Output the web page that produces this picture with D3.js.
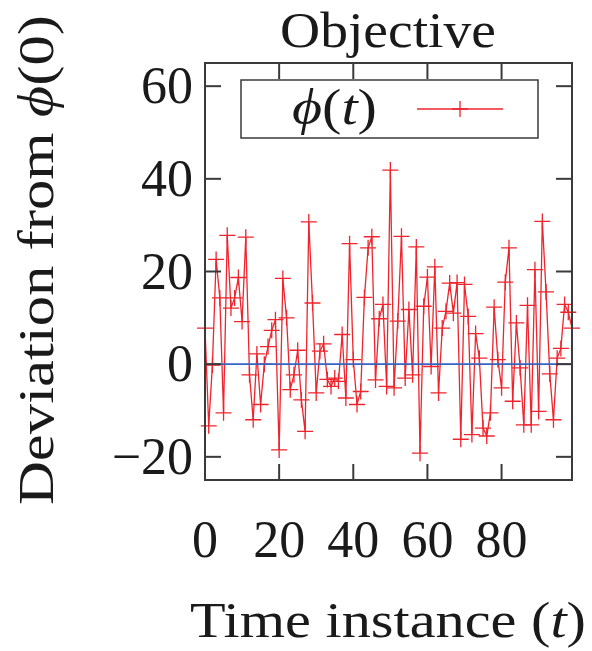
<!DOCTYPE html>
<html>
<head>
<meta charset="utf-8">
<script src="https://cdn.jsdelivr.net/npm/d3@7"></script>
<style>
  body { margin: 0; background: #fff; }
  text { font-family: "Liberation Serif", "Times New Roman", Times, serif; fill: #1a1a1a; }
</style>
</head>
<body>
<script>
// phi(t) - phi(0), t = 0..99
const deviation = [
  7.8, -13.3, -0.2, 22.6, 14.3, -10.5, 27.8, 12.1, 14.3, 18.7,
  9.2, 27.4, -2.3, -12, 2.2, -8.7, 0, 3.8, 7.3, 9.6,
  -18.5, 18.5, 10, -5.5, -2.3, 3, -7.7, -14.5, 30.7, 13.2,
  -6.2, 2.8, 4.4, -3.3, -4.8, -3, -3.7, 6.4, -7.3, 26,
  1, -8.7, -5.9, 14.4, 25.1, 27.5, -3.4, 9.8, 12.9, -4.8,
  41.9, -5.1, 9.3, 27.6, -3, 11.8, -2.3, 25.3, -19.2, 12.5,
  18.8, -0.5, 21, -6.2, 7.8, 11.4, 17.5, 11, 17.6, -16.2,
  17.2, 10.3, -15.2, 6.6, 1.3, -13.8, -15.5, -10.5, 12.3, 1,
  -5.1, 17.7, 25.1, -8, 8.9, -0.8, -13.1, 12.7, -13.1, 20.4,
  -10.2, 30.8, 15.6, -2.1, -12, 1.3, 3.4, 12.9, 11.2, 7.8
];
const baseline = [0, 0];           // the flat phi(0) reference line
const xTicks = [0, 20, 40, 60, 80];
const yTicks = [-20, 0, 20, 40, 60];

const width = 592, height = 651;
const margin = {top: 63, right: 20, bottom: 171, left: 205};

const svg = d3.select("body").append("svg")
  .attr("width", width)
  .attr("height", height);

const x = d3.scaleLinear().domain([0, 99]).range([margin.left, width - margin.right]);
const y = d3.scaleLinear().domain([-25, 65]).range([height - margin.bottom, margin.top]);

const red = "#f0242c";
const frame = "#3a3a3a";
const tickLen = 16;

// data line + crosses
const pts = deviation.map((v, i) => [i, v]);
svg.append("path")
  .datum(pts)
  .attr("fill", "none")
  .attr("stroke", red)
  .attr("stroke-width", 1.3)
  .attr("d", d3.line().x(d => x(d[0])).y(d => y(d[1])));

svg.append("g").selectAll("path")
  .data(pts)
  .join("path")
  .attr("transform", d => `translate(${x(d[0])},${y(d[1])})`)
  .attr("d", "M-8,0H8M0,-8V8")
  .attr("stroke", red)
  .attr("stroke-width", 1.3);

// phi(0) line
svg.append("line")
  .attr("x1", x(0)).attr("x2", x(99))
  .attr("y1", y(baseline[0])).attr("y2", y(baseline[1]))
  .attr("stroke", "#3463c4")
  .attr("stroke-width", 1.6);

// axes: ticks mirrored on all four sides, pointing inward
const x0 = x(0), x1 = x(99), yTop = y(65), yBot = y(-25);
const axisG = svg.append("g").attr("stroke", frame).attr("stroke-width", 2);

axisG.selectAll(".yl").data(yTicks).join("line")
  .attr("x1", x0).attr("x2", x0 + tickLen)
  .attr("y1", d => y(d)).attr("y2", d => y(d));
axisG.selectAll(".yr").data(yTicks).join("line")
  .attr("x1", x1).attr("x2", x1 - tickLen)
  .attr("y1", d => y(d)).attr("y2", d => y(d));
axisG.selectAll(".xb").data(xTicks).join("line")
  .attr("x1", d => x(d)).attr("x2", d => x(d))
  .attr("y1", yBot).attr("y2", yBot - tickLen);
axisG.selectAll(".xt").data(xTicks).join("line")
  .attr("x1", d => x(d)).attr("x2", d => x(d))
  .attr("y1", yTop).attr("y2", yTop + tickLen);

svg.append("rect")
  .attr("x", x0).attr("y", yTop)
  .attr("width", x1 - x0).attr("height", yBot - yTop)
  .attr("fill", "none")
  .attr("stroke", frame)
  .attr("stroke-width", 2);

// tick labels
svg.append("g").selectAll("text").data(yTicks).join("text")
  .attr("x", x0 - 12)
  .attr("y", d => y(d) + 17)
  .attr("text-anchor", "end")
  .attr("font-size", 52)
  .text(d => d < 0 ? "\u2212" + Math.abs(d) : d);

svg.append("g").selectAll("text").data(xTicks).join("text")
  .attr("x", d => x(d))
  .attr("y", 557)
  .attr("text-anchor", "middle")
  .attr("font-size", 52)
  .text(d => d);

// titles
svg.append("text")
  .attr("x", 388).attr("y", 47)
  .attr("text-anchor", "middle")
  .attr("font-size", 50)
  .attr("textLength", 216)
  .attr("lengthAdjust", "spacingAndGlyphs")
  .text("Objective");

const xl = svg.append("text")
  .attr("x", 190).attr("y", 637)
  .attr("font-size", 51)
  .attr("textLength", 396)
  .attr("lengthAdjust", "spacingAndGlyphs");
xl.append("tspan").text("Time instance (");
xl.append("tspan").attr("font-style", "italic").text("t");
xl.append("tspan").text(")");

const yl = svg.append("text")
  .attr("transform", "translate(53,505) rotate(-90)")
  .attr("x", 0).attr("y", 0)
  .attr("font-size", 51)
  .attr("textLength", 490)
  .attr("lengthAdjust", "spacingAndGlyphs");
yl.append("tspan").text("Deviation from ");
yl.append("tspan").attr("font-style", "italic").text("\u03D5");
yl.append("tspan").text("(0)");

// legend
const lg = svg.append("g");
lg.append("rect")
  .attr("x", 241).attr("y", 80)
  .attr("width", 297).attr("height", 58)
  .attr("fill", "#fff")
  .attr("stroke", frame)
  .attr("stroke-width", 1.5);
const lt = lg.append("text")
  .attr("x", 292).attr("y", 124)
  .attr("font-size", 50)
  .attr("textLength", 85)
  .attr("lengthAdjust", "spacingAndGlyphs");
lt.append("tspan").attr("font-style", "italic").text("\u03D5");
lt.append("tspan").text("(");
lt.append("tspan").attr("font-style", "italic").text("t");
lt.append("tspan").text(")");
lg.append("line")
  .attr("x1", 417).attr("x2", 503)
  .attr("y1", 109).attr("y2", 109)
  .attr("stroke", red).attr("stroke-width", 1.3);
lg.append("path")
  .attr("transform", "translate(460,109)")
  .attr("d", "M-8,0H8M0,-8V8")
  .attr("stroke", red).attr("stroke-width", 1.3);
</script>
</body>
</html>
